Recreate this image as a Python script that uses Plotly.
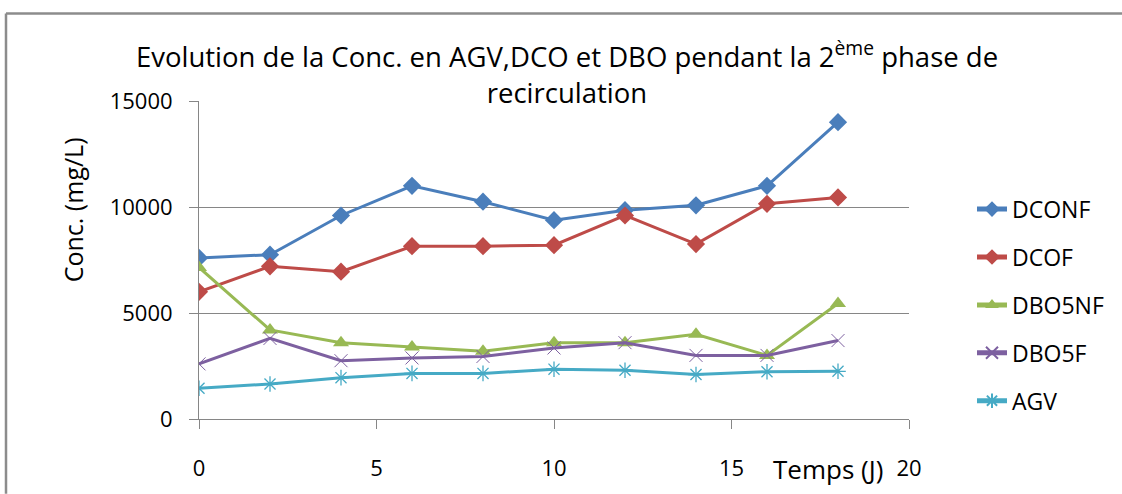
import plotly.graph_objects as go

# Sampling days (J)
jours = [0, 2, 4, 6, 8, 10, 12, 14, 16, 18]

# Concentrations in mg/L
dconf = [7600, 7750, 9600, 11000, 10250, 9380, 9850, 10080, 11000, 14000]
dcof = [6000, 7200, 6950, 8150, 8150, 8200, 9600, 8250, 10150, 10450]
dbo5nf = [7150, 4200, 3600, 3400, 3200, 3600, 3600, 4000, 3000, 5450]
dbo5f = [2600, 3800, 2750, 2880, 2950, 3350, 3600, 3000, 3000, 3700]
agv = [1450, 1650, 1950, 2150, 2150, 2350, 2300, 2100, 2230, 2250]

# Axis ticks
x_ticks = [0, 5, 10, 15, 20]
y_ticks = [0, 5000, 10000, 15000]
y_ticktext = ["0", "5000", "10000", "15000"]

series = [
    ("DCONF", dconf, "#4A7EBB", dict(symbol="diamond", size=14)),
    ("DCOF", dcof, "#BE4B48", dict(symbol="diamond", size=14)),
    ("DBO5NF", dbo5nf, "#98B954", dict(symbol="triangle-up", size=14)),
    ("DBO5F", dbo5f, "#7D60A0", dict(symbol="x-thin-open", size=13,
                                      line=dict(width=1, color="#8E78B4"))),
    ("AGV", agv, "#46AAC5", dict(symbol="asterisk-open", size=13,
                                  line=dict(width=1.3, color="#46AAC5"))),
]

FONT = "Open Sans"
GRID = "#868686"

fig = go.Figure()
for i, (name, vals, color, mk) in enumerate(series):
    fig.add_trace(go.Scatter(
        x=jours, y=vals, name=name, mode="lines+markers",
        line=dict(color=color, width=3),
        marker=dict(color=color, **mk),
        legendgroup=f"g{i}",
    ))

W, H = 1122, 494
L, R, T, B = 199, 213, 101, 70
pw, ph = W - L - R, H - T - B

def px_x(p):
    return (p - L) / pw

def px_y(p):
    return (H - B - p) / ph

fig.update_layout(
    width=W, height=H,
    margin=dict(l=L, r=R, t=T, b=B),
    paper_bgcolor="white", plot_bgcolor="white",
    font=dict(family=FONT, color="#000000", size=20),
    title=dict(
        text="Evolution de la Conc. en AGV,DCO et DBO pendant la 2<sup>ème</sup> phase de<br>recirculation",
        x=567 / W, xanchor="center",
        y=1 - 67 / H, yanchor="top",
        font=dict(family=FONT, size=27.5),
    ),
    showlegend=True,
    legend=dict(
        x=px_x(972), xanchor="left",
        y=px_y(189), yanchor="top",
        font=dict(family=FONT, size=23),
        tracegroupgap=15,
        bgcolor="rgba(0,0,0,0)",
        itemsizing="constant",
    ),
    xaxis=dict(
        range=[0, 20], tickvals=x_ticks,
        showgrid=False, zeroline=False,
        showline=True, linecolor=GRID, linewidth=1,
        ticks="outside", ticklen=9, tickcolor=GRID,
        ticklabelstandoff=21,
        tickfont=dict(family=FONT, size=22),
    ),
    yaxis=dict(
        range=[0, 15000], tickvals=y_ticks, ticktext=y_ticktext,
        showgrid=True, gridcolor=GRID, gridwidth=1,
        zeroline=False,
        showline=True, linecolor=GRID, linewidth=1,
        ticks="outside", ticklen=9, tickcolor=GRID,
        ticklabelstandoff=12,
        tickfont=dict(family=FONT, size=22),
    ),
    annotations=[
        dict(text="Conc. (mg/L)", xref="paper", yref="paper",
             x=px_x(73), y=px_y(211), xanchor="center", yanchor="middle",
             textangle=-90, showarrow=False,
             font=dict(family=FONT, size=25)),
        dict(text="Temps (J)", xref="paper", yref="paper",
             x=px_x(828), y=px_y(475), xanchor="center", yanchor="middle",
             showarrow=False, font=dict(family=FONT, size=26)),
    ],
    shapes=[
        # chart frame (left and top edges)
        dict(type="line", xref="paper", yref="paper",
             x0=px_x(6), x1=px_x(6), y0=px_y(12), y1=px_y(500),
             line=dict(color="#8C8C8C", width=2.5)),
        dict(type="line", xref="paper", yref="paper",
             x0=px_x(6), x1=px_x(1130), y0=px_y(12), y1=px_y(12),
             line=dict(color="#8C8C8C", width=2.5)),
    ],
)

fig.write_html("out.html")
